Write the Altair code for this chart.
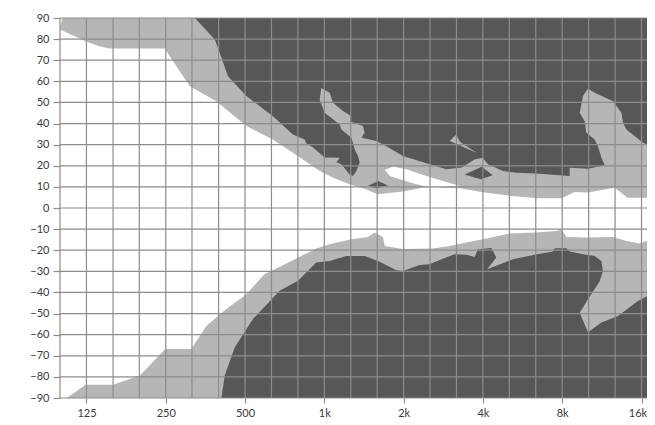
import altair as alt
import pandas as pd

# ---------------- axis / grid values ----------------
grid_freqs = [100, 126, 159, 200, 252, 317, 400, 504, 635, 800, 1008, 1270, 1600,
              2016, 2540, 3200, 4032, 5080, 6400, 8063, 10159, 12800, 16127]
tick_freqs = [126, 252, 504, 1008, 2016, 4032, 8063, 16127]
tick_labels = ["125", "250", "500", "1k", "2k", "4k", "8k", "16k"]
angle_ticks = [-90, -80, -70, -60, -50, -40, -30, -20, -10, 0, 10, 20, 30, 40, 50, 60, 70, 80, 90]

# ---------------- region outlines (frequency Hz, angle deg) ----------------
upper_light_f = [102, 100, 125, 141, 154, 250, 261, 311, 392, 510, 643, 813, 968, 1084, 1258,
                 1456, 1607, 2035, 2424, 3290, 4095, 5184, 6508, 8027, 8993, 10075, 12754,
                 14290, 17320, 18140, 18140]
upper_light_a = [90, 84.5, 79, 76.6, 75.5, 75.5, 71.9, 57.7, 50.6, 38.8, 32.5, 24, 17.5, 14.4, 11.2,
                 8.8, 6.5, 7.9, 9.8, 9.3, 7.3, 5.7, 4.6, 4.6, 7.6, 7.3, 9.6,
                 4.9, 4.9, 8.0, 90]

lower_light_f = [106, 125, 159, 201, 251, 315, 360, 428, 510, 598, 643, 813, 940, 1056, 1277,
                 1476, 1565, 1683, 1709, 2004, 2606, 3015, 3490, 4034, 5094, 6436, 7664, 8027,
                 8362, 9986, 12570, 14130, 15870, 16830, 18140, 18140]
lower_light_a = [-90, -83.7, -83.7, -79.4, -66.8, -66.8, -55.8, -47.9, -40.8, -31.3, -29.5, -23.1,
                 -19.2, -17.2, -14.8, -13.7, -11.6, -13.7, -18.0, -19.4, -19.2, -18.0, -16.4, -14.8,
                 -12.1, -11.6, -10.9, -10.1, -13.7, -14.0, -13.7, -15.6, -16.8, -15.6, -13.2, -90]

upper_dark_f = [325, 387, 404, 434, 510, 643, 766, 849, 862, 913, 1011, 1153, 1120, 1170, 1258,
                1295, 1334, 1373, 1353, 1314, 1277, 1170, 1153, 1011, 968, 982, 1056, 1087, 1187,
                1277, 1258, 1413, 1434, 1394, 1589, 1734, 2004, 2531, 2930, 3348, 3750, 4022,
                4213, 4803, 5401, 6435, 7225, 8604, 8604, 10100, 11690, 11360, 11020, 10710,
                9959, 9815, 9396, 9671, 10100, 10710, 12570, 13530, 13720, 14130, 16340, 17580,
                18140, 18140]
upper_dark_a = [90, 79.8, 73.5, 62.4, 53.0, 43.5, 34.8, 32.5, 30.6, 28.6, 23.9, 23.8, 21.7, 20.7,
                15.9, 15.1, 17.5, 21.5, 24.6, 27.8, 33.3, 37.2, 39.6, 45.1, 51.4, 56.9, 54.6, 49.8,
                45.9, 43.5, 41.1, 38.8, 35.6, 33.3, 31.7, 29.3, 24.6, 20.7, 18.3, 19.2, 23.0, 23.8,
                20.7, 17.5, 16.7, 16.4, 15.9, 15.1, 19.1, 18.6, 20.2, 23.8, 29.3, 32.5,
                35.6, 41.1, 45.1, 53.0, 56.5, 54.6, 50.6, 45.1, 40.4, 37.2, 30.9, 29.3,
                28.6, 90]

lower_dark_f = [410, 422, 461, 540, 682, 801, 940, 1056, 1222, 1434, 1611, 1893, 2004, 2320, 2531,
                2805, 3151, 3490, 3750, 3862, 4341, 4535, 4184, 4876, 5242, 6338, 7437, 7548,
                8362, 8604, 9671, 10710, 11360, 11510, 11190, 10100, 9396, 10100, 11360, 13130,
                15640, 18140, 18140]
lower_dark_a = [-90, -79.4, -66.0, -52.6, -39.2, -34.5, -25.8, -25.1, -22.7, -22.7, -25.1, -29.5,
                -29.8, -27.0, -26.6, -24.3, -21.9, -22.2, -23.2, -19.5, -19.0, -23.5, -29.0, -25.8,
                -24.3, -22.2, -20.6, -19.1, -19.1, -20.6, -21.9, -22.7, -25.2, -29.9, -34.7, -43.2,
                -49.6, -58.9, -54.2, -51.1, -44.0, -39.9, -90]

light_triangle_f = [3197, 3015, 3348, 3809, 3290]
light_triangle_a = [34.8, 31.7, 29.2, 26.2, 31.5]

dark_island1_f = [1476, 1611, 1758, 1589]
dark_island1_a = [10.4, 12.8, 10.7, 9.3]
dark_island2_f = [3437, 3990, 4391, 3954]
dark_island2_a = [15.9, 19.5, 15.5, 13.6]

white_tongue_f = [1709, 1837, 2065, 2459, 2844, 3290, 2606, 2253, 1948, 1785]
white_tongue_a = [18.0, 19.6, 18.3, 15.1, 12.8, 10.4, 9.6, 11.2, 13.6, 15.1]

# ---------------- styling ----------------
DARK = "#585657"
LIGHT = "#b5b6b5"
WHITE = "#ffffff"
GRID = "#8c8c8c"
TEXT = "#3a3a3a"
FONT = "Lato"

xscale = alt.Scale(type="log", domain=[100, 16920], nice=False)
yscale = alt.Scale(domain=[-90, 90], nice=False, zero=False)

label_expr = "''"
for v, l in reversed(list(zip(tick_freqs, tick_labels))):
    label_expr = f"abs(datum.value - {v}) < 1 ? '{l}' : " + label_expr

xaxis = alt.Axis(values=tick_freqs, labelExpr=label_expr, grid=False, domain=False,
                 ticks=True, tickColor=GRID, tickSize=5, tickWidth=1.2,
                 labelFont=FONT, labelFontSize=11, labelColor=TEXT, labelPadding=4,
                 labelOffset={"condition": {"test": "datum.value > 10000", "value": -4}, "value": 0},
                 title=None, labelFlush=False, labelOverlap=False)
yaxis = alt.Axis(values=angle_ticks, grid=False, domain=False, ticks=True,
                 tickColor=GRID, tickSize=7, tickWidth=1.2, labelFont=FONT,
                 labelFontSize=11, labelColor=TEXT, labelPadding=4, title=None,
                 labelOverlap=False)


def poly(fs, angs, color):
    assert len(fs) == len(angs)
    df = pd.DataFrame({"freq": fs, "angle": angs, "i": list(range(len(fs)))})
    return alt.Chart(df).mark_line(filled=True, color=color, clip=True).encode(
        x=alt.X("freq:Q", scale=xscale, axis=xaxis),
        y=alt.Y("angle:Q", scale=yscale, axis=yaxis),
        order=alt.Order("i:Q"),
    )


layers = [
    poly(upper_light_f, upper_light_a, LIGHT),
    poly(lower_light_f, lower_light_a, LIGHT),
    poly(upper_dark_f, upper_dark_a, DARK),
    poly(lower_dark_f, lower_dark_a, DARK),
    poly(light_triangle_f, light_triangle_a, LIGHT),
    poly(dark_island1_f, dark_island1_a, DARK),
    poly(dark_island2_f, dark_island2_a, DARK),
    poly(white_tongue_f, white_tongue_a, WHITE),
]

vgrid = alt.Chart(pd.DataFrame({"freq": grid_freqs})).mark_rule(
    color=GRID, strokeWidth=1.2).encode(x=alt.X("freq:Q", scale=xscale, axis=xaxis))
hgrid = alt.Chart(pd.DataFrame({"angle": angle_ticks})).mark_rule(
    color=GRID, strokeWidth=1.2).encode(y=alt.Y("angle:Q", scale=yscale, axis=yaxis))

chart = alt.layer(*layers, vgrid, hgrid).properties(
    width=587, height=380,
    autosize=alt.AutoSizeParams(type="none"),
    padding={"left": 52, "top": 10, "right": 0, "bottom": 19},
    background="white",
).configure_view(stroke=None)

chart.save("out.html", embed_options={"renderer": "svg", "actions": False})
